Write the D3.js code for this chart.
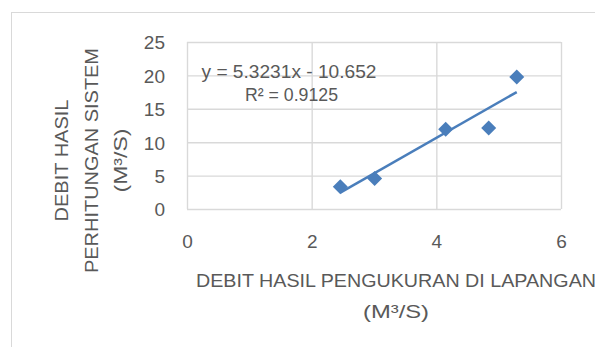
<!DOCTYPE html>
<html>
<head>
<meta charset="utf-8">
<script src="https://cdn.jsdelivr.net/npm/d3@7"></script>
<style>
  html, body { margin: 0; padding: 0; background: #ffffff; overflow: hidden; }
  svg { display: block; }
  text { font-family: "Liberation Sans", Arial, sans-serif; fill: #595959; }
</style>
</head>
<body>
<svg id="chart" width="595" height="347"></svg>
<script>
// ---- data ----
const xValues = [2.46, 3.01, 4.15, 4.84, 5.29];
const yValues = [3.33, 4.58, 11.94, 12.13, 19.75];
const xTicks = [0, 2, 4, 6];
const yTicks = [0, 5, 10, 15, 20, 25];
const trendSlope = 5.3231;
const trendIntercept = -10.652;
const equationLabel = "y = 5.3231x - 10.652";
const r2Label = "R\u00B2 = 0.9125";
const xTitleLines = ["DEBIT HASIL PENGUKURAN DI LAPANGAN", "(M\u00B3/S)"];
const yTitleLines = ["DEBIT HASIL", "PERHITUNGAN SISTEM", "(M\u00B3/S)"];

// ---- layout ----
const svg = d3.select("#chart");
const plot = { left: 187, right: 561, top: 42, bottom: 209 };
const grid = "#d9d9d9";
const blue = "#4a7ebb";
const fs = 19;

// outer chart border (extends past window on right/bottom)
svg.append("rect")
  .attr("x", 11.5).attr("y", 12.5)
  .attr("width", 700).attr("height", 500)
  .attr("fill", "none").attr("stroke", grid).attr("stroke-width", 1);

const x = d3.scaleLinear().domain([0, 6]).range([plot.left, plot.right]);
const y = d3.scaleLinear().domain([0, 25]).range([plot.bottom, plot.top]);

// Y axis with gridlines
const yAxis = svg.append("g")
  .attr("transform", `translate(${plot.left},0)`)
  .call(d3.axisLeft(y).tickValues(yTicks).tickSize(-(plot.right - plot.left)).tickPadding(22).tickFormat(d3.format("d")));
yAxis.select(".domain").remove();
yAxis.selectAll("line").attr("stroke", grid).attr("stroke-width", 1.4);
yAxis.selectAll("text").attr("font-size", fs).attr("fill", "#595959")
  .attr("font-family", "Liberation Sans, Arial, sans-serif").attr("dy", "0.36em");

// X axis with gridlines
const xAxis = svg.append("g")
  .attr("transform", `translate(0,${plot.bottom})`)
  .call(d3.axisBottom(x).tickValues(xTicks).tickSize(-(plot.bottom - plot.top)).tickPadding(26).tickFormat(d3.format("d")));
xAxis.select(".domain").remove();
xAxis.selectAll("line").attr("stroke", grid).attr("stroke-width", 1.4);
xAxis.selectAll("text").attr("font-size", fs).attr("fill", "#595959")
  .attr("font-family", "Liberation Sans, Arial, sans-serif");

// trendline
const xMin = d3.min(xValues), xMax = d3.max(xValues);
svg.append("line")
  .attr("x1", x(xMin)).attr("y1", y(trendSlope * xMin + trendIntercept))
  .attr("x2", x(xMax)).attr("y2", y(trendSlope * xMax + trendIntercept))
  .attr("stroke", blue).attr("stroke-width", 2.5);

// markers (diamonds)
const pts = xValues.map((v, i) => ({ x: v, y: yValues[i] }));
const r = 7.5;
svg.append("g").selectAll("path").data(pts).join("path")
  .attr("transform", d => `translate(${x(d.x)},${y(d.y)})`)
  .attr("d", `M0,${-r}L${r},0L0,${r}L${-r},0Z`)
  .attr("fill", blue);

// equation labels
svg.append("text").attr("x", 289).attr("y", 78).attr("text-anchor", "middle")
  .attr("font-size", fs).attr("textLength", 175).attr("lengthAdjust", "spacingAndGlyphs")
  .text(equationLabel);
svg.append("text").attr("x", 291.5).attr("y", 101).attr("text-anchor", "middle")
  .attr("font-size", fs).attr("textLength", 93).attr("lengthAdjust", "spacingAndGlyphs")
  .text(r2Label);

// x title
const xTitleLens = [400, 66];
xTitleLines.forEach((t, i) => {
  svg.append("text").attr("x", 396).attr("y", 286.5 + i * 31)
    .attr("text-anchor", "middle").attr("font-size", fs)
    .attr("textLength", xTitleLens[i]).attr("lengthAdjust", "spacingAndGlyphs")
    .text(t);
});

// y title (rotated)
const yTitleLens = [122, 225, 64];
yTitleLines.forEach((t, i) => {
  const bx = 68 + i * 29.5;
  svg.append("text").attr("transform", `translate(${bx},160.5) rotate(-90)`)
    .attr("text-anchor", "middle").attr("font-size", fs)
    .attr("textLength", yTitleLens[i]).attr("lengthAdjust", "spacingAndGlyphs")
    .text(t);
});
</script>
</body>
</html>
